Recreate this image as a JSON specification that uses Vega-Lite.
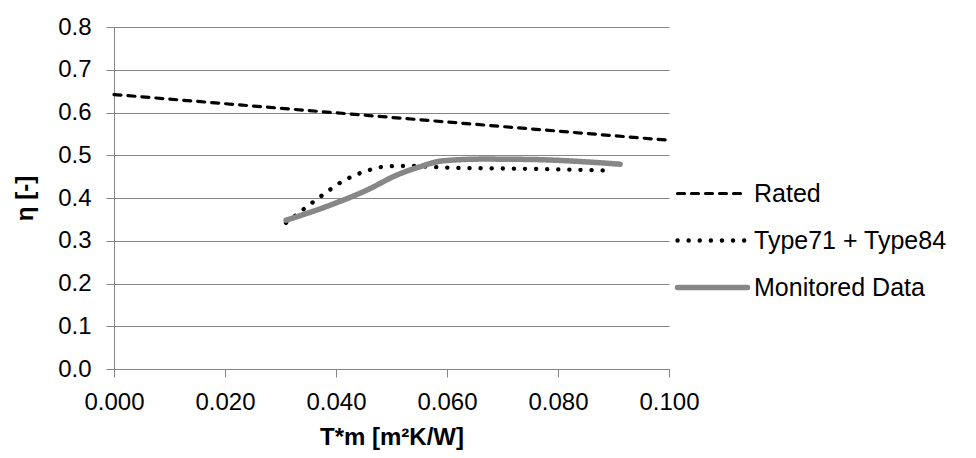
{
  "$schema": "https://vega.github.io/schema/vega-lite/v6.json",
  "width": 555,
  "height": 342,
  "autosize": {"type": "none"},
  "padding": {"left": 114, "top": 27, "right": 307, "bottom": 89},
  "background": "white",
  "config": {
    "view": {"stroke": null},
    "font": "Liberation Sans",
    "axis": {
      "domainColor": "#868686",
      "gridColor": "#868686",
      "tickColor": "#868686",
      "gridWidth": 1,
      "domainWidth": 1,
      "tickWidth": 1,
      "tickSize": 8,
      "labelFontSize": 24,
      "labelColor": "#000000",
      "labelFont": "Liberation Sans",
      "labelFlush": false,
      "labelOverlap": false,
      "titleFont": "Liberation Sans",
      "titleFontSize": 24,
      "titleFontWeight": "bold",
      "titleColor": "#000000"
    },
    "legend": {
      "orient": "none",
      "legendX": 586,
      "legendY": 154,
      "labelFontSize": 25,
      "labelFont": "Liberation Sans",
      "labelColor": "#000000",
      "labelOffset": 29,
      "labelLimit": 0,
      "rowPadding": 21,
      "padding": 0,
      "symbolType": "M-7,0H7",
      "symbolSize": 100
    }
  },
  "data": {
    "values": [
      {"series": "Rated", "x": 0.0, "y": 0.642},
      {"series": "Rated", "x": 0.1, "y": 0.535},
      {"series": "Type71 + Type84", "x": 0.031, "y": 0.342},
      {"series": "Type71 + Type84", "x": 0.0344, "y": 0.376},
      {"series": "Type71 + Type84", "x": 0.0378, "y": 0.409},
      {"series": "Type71 + Type84", "x": 0.0413, "y": 0.44},
      {"series": "Type71 + Type84", "x": 0.0452, "y": 0.462},
      {"series": "Type71 + Type84", "x": 0.0492, "y": 0.474},
      {"series": "Type71 + Type84", "x": 0.053, "y": 0.475},
      {"series": "Type71 + Type84", "x": 0.06, "y": 0.471},
      {"series": "Type71 + Type84", "x": 0.07, "y": 0.469},
      {"series": "Type71 + Type84", "x": 0.08, "y": 0.467},
      {"series": "Type71 + Type84", "x": 0.0897, "y": 0.464},
      {"series": "Monitored Data", "x": 0.031, "y": 0.348},
      {"series": "Monitored Data", "x": 0.0395, "y": 0.386},
      {"series": "Monitored Data", "x": 0.0455, "y": 0.418},
      {"series": "Monitored Data", "x": 0.0512, "y": 0.455},
      {"series": "Monitored Data", "x": 0.0551, "y": 0.473},
      {"series": "Monitored Data", "x": 0.0593, "y": 0.487},
      {"series": "Monitored Data", "x": 0.0665, "y": 0.491},
      {"series": "Monitored Data", "x": 0.0755, "y": 0.49},
      {"series": "Monitored Data", "x": 0.0845, "y": 0.485},
      {"series": "Monitored Data", "x": 0.0912, "y": 0.479}
    ]
  },
  "mark": {"type": "line", "interpolate": "monotone", "strokeCap": "round"},
  "encoding": {
    "x": {
      "field": "x",
      "type": "quantitative",
      "scale": {"domain": [0, 0.1], "nice": false, "zero": false},
      "axis": {
        "values": [0, 0.02, 0.04, 0.06, 0.08, 0.1],
        "format": ".3f",
        "title": "T*m [m²K/W]",
        "labelPadding": 13,
        "titlePadding": 11,
        "grid": false
      }
    },
    "y": {
      "field": "y",
      "type": "quantitative",
      "scale": {"domain": [0, 0.8], "nice": false},
      "axis": {
        "values": [0, 0.1, 0.2, 0.3, 0.4, 0.5, 0.6, 0.7, 0.8],
        "format": ".1f",
        "title": "η [-]",
        "labelPadding": 15,
        "titlePadding": 20,
        "grid": true
      }
    },
    "color": {
      "field": "series",
      "type": "nominal",
      "scale": {"domain": ["Rated", "Type71 + Type84", "Monitored Data"], "range": ["#000000", "#000000", "#878787"]},
      "legend": {"title": null, "encode": {"symbols": {"update": {"strokeCap": {"value": "round"}}}}}
    },
    "strokeDash": {
      "field": "series",
      "type": "nominal",
      "scale": {"domain": ["Rated", "Type71 + Type84", "Monitored Data"], "range": [[7, 7], [0.1, 11], [1, 0]]},
      "legend": {"title": null}
    },
    "strokeWidth": {
      "field": "series",
      "type": "nominal",
      "scale": {"domain": ["Rated", "Type71 + Type84", "Monitored Data"], "range": [3.2, 5.5, 5]},
      "legend": {"title": null}
    }
  }
}
